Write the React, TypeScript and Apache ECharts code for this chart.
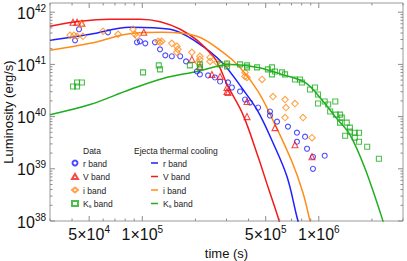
import React, { useEffect, useRef } from 'react';
import * as echarts from 'echarts';

// ---- observed data (time s, luminosity erg/s) ----
const rBandData: number[][] = [
  [4.16e4, 2.89e41], [4.38e4, 4.71e41], [6.39e4, 4.12e41], [9.33e4, 2.65e41], [9.7e4, 2.77e41],
  [1.04e5, 2.53e41], [1.18e5, 2.65e41], [1.26e5, 1.94e41], [1.35e5, 1.49e41], [1.47e5, 1.43e41],
  [1.64e5, 1.43e41], [1.77e5, 1.14e41], [2.04e5, 7.33e40], [2.12e5, 6.43e40], [2.36e5, 6.14e40],
  [2.58e5, 5.62e40], [2.76e5, 4.71e40], [3.06e5, 4.51e40], [3.22e5, 3.61e40], [3.58e5, 3.03e40],
  [3.82e5, 2.12e40], [4.08e5, 1.86e40], [4.53e5, 1.49e40], [5.29e5, 1.25e40], [5.29e5, 1.05e40],
  [5.8e5, 8.01e39], [6.69e5, 6.43e39], [7.52e5, 4.92e39], [7.52e5, 3.3e39], [8.36e5, 4.12e39],
  [8.58e5, 2.42e39], [9.27e5, 1.7e39], [1.08e6, 1.78e39], [9.27e5, 1.0e39],
];
const vBandData: number[][] = [
  [4.05e4, 6.43e41], [4.27e4, 6.43e41], [4.55e4, 6.14e41], [1.02e5, 4.12e41], [1.91e5, 1.25e41],
  [2.12e5, 9.15e40], [2.48e5, 6.43e40], [2.76e5, 5.87e40], [3.02e5, 3.61e40], [3.02e5, 3.03e40],
  [3.06e5, 2.89e40], [3.92e5, 1.94e40], [3.92e5, 1.0e40], [5.65e5, 6.14e39], [7.33e5, 2.89e39],
  [9.15e5, 1.7e39],
];
const iBandData: number[][] = [
  [3.9e4, 3.61e41], [4.1e4, 3.61e41], [4.27e4, 3.45e41], [4.61e4, 3.45e41], [4.49e4, 5.87e41],
  [5.99e4, 4.31e41], [7.29e4, 3.78e41], [8.86e4, 4.71e41], [9.09e4, 3.78e41], [9.33e4, 3.45e41],
  [1.23e5, 2.77e41], [1.26e5, 2.65e41], [1.29e5, 2.77e41], [1.47e5, 2.53e41], [1.57e5, 2.22e41],
  [1.59e5, 1.94e41], [1.57e5, 1.7e41], [1.91e5, 1.7e41], [2.12e5, 1.43e41], [2.12e5, 1.25e41],
  [2.07e5, 1.09e41], [2.42e5, 1.36e41], [2.42e5, 1.14e41], [2.65e5, 1.09e41], [3.02e5, 1.0e41],
  [3.82e5, 7.02e40], [3.82e5, 5.87e40], [3.92e5, 5.62e40], [4.77e5, 5.15e40], [5.5e5, 2.42e40],
  [6.44e5, 2.12e40], [6.52e5, 1.49e40], [7.33e5, 1.78e40], [6.44e5, 9.57e39], [8.14e5, 9.57e39],
  [9.15e5, 3.95e39],
];
const ksBandData: number[][] = [
  [4.05e4, 3.78e40], [4.27e4, 3.78e40], [4.27e4, 4.51e40], [4.55e4, 4.51e40], [1.01e5, 7.02e40],
  [1.24e5, 9.57e40], [1.26e5, 8.01e40], [1.86e5, 9.57e40], [2.12e5, 1.0e41], [2.12e5, 8.75e40],
  [2.76e5, 1.0e41], [3.02e5, 1.04e41], [3.02e5, 9.15e40], [3.58e5, 1.0e41], [3.92e5, 9.57e40],
  [3.92e5, 8.75e40], [4.47e5, 8.75e40], [5.15e5, 8.01e40], [5.43e5, 8.75e40], [5.43e5, 6.43e40],
  [5.65e5, 7.33e40], [6.19e5, 7.02e40], [6.44e5, 6.43e40], [7.33e5, 5.15e40], [7.83e5, 5.15e40],
  [8.03e5, 4.51e40], [8.92e5, 3.3e40], [9.52e5, 3.61e40], [9.9e5, 2.65e40], [1.08e6, 1.94e40],
  [9.9e5, 1.78e40], [1.13e6, 1.7e40], [1.24e6, 1.94e40], [1.16e6, 1.25e40], [1.25e6, 1.09e40],
  [1.32e6, 1.09e40], [1.35e6, 9.57e39], [1.32e6, 7.67e39], [1.44e6, 7.67e39], [1.5e6, 6.14e39],
  [1.41e6, 4.31e39], [1.5e6, 5.15e39], [1.6e6, 4.92e39], [1.6e6, 3.95e39], [1.69e6, 4.92e39],
  [1.69e6, 3.3e39], [1.88e6, 2.65e39], [2.19e6, 1.56e39],
];

// ---- ejecta thermal cooling model curves ----
const rBandModel: number[][] = [
  [3.0e4, 2.89e41], [5.06e4, 3.78e41], [8.52e4, 5.15e41], [1.44e5, 4.71e41], [2.04e5, 2.65e41],
  [2.83e5, 1.09e41], [3.72e5, 3.3e40], [4.53e5, 1.25e40], [5.5e5, 3.16e39], [6.61e5, 7.02e38],
  [7.52e5, 1.19e38], [7.83e5, 7.3e37],
];
const vBandModel: number[][] = [
  [3.0e4, 5.38e41], [4.44e4, 6.71e41], [6.56e4, 7.33e41], [9.7e4, 7.33e41], [1.64e5, 4.71e41],
  [2.52e5, 1.43e41], [3.06e5, 3.78e40], [3.72e5, 1.09e40], [4.53e5, 1.7e39], [5.15e5, 4.51e38],
  [5.87e5, 1.19e38], [6.11e5, 7.3e37],
];
const iBandModel: number[][] = [
  [3.0e4, 1.86e41], [5.06e4, 2.53e41], [8.86e4, 3.95e41], [1.31e5, 4.12e41], [2.04e5, 3.45e41],
  [2.87e5, 1.7e41], [3.58e5, 8.75e40], [4.53e5, 3.03e40], [5.65e5, 7.02e39], [7.05e5, 1.36e39],
  [8.14e5, 3.45e38], [8.92e5, 1.0e38], [9.15e5, 7.3e37],
];
const ksBandModel: number[][] = [
  [3.0e4, 1.09e40], [5.06e4, 1.7e40], [8.52e4, 3.3e40], [1.31e5, 5.38e40], [2.04e5, 7.33e40],
  [3.14e5, 1.0e41], [4.53e5, 8.75e40], [6.19e5, 6.43e40], [8.36e5, 4.51e40], [1.06e6, 1.94e40],
  [1.25e6, 9.57e39], [1.5e6, 4.51e39], [1.83e6, 1.0e39], [2.31e6, 1.0e38], [2.35e6, 7.3e37],
];

// ---- axes ----
const xMin = 3e4;
const xMax = 3e6;
const yMin = 1e38;
const yMax = 1.5e42;
const xTickLabels = [5e4, 1e5, 5e5, 1e6];
const yTickLabels = [1e38, 1e39, 1e40, 1e41, 1e42];

const BLUE = '#1f1fff';
const RED = '#f21a1a';
const ORANGE = '#ff8c1a';
const GREEN = '#1fae1f';
const FONT = 'Liberation Sans, Arial, sans-serif';

const sup = (v: number) => Math.round(Math.log10(v));

export default function App() {
  const ref = useRef<HTMLDivElement>(null);
  useEffect(() => {
    if (!ref.current) return;
    const chart = echarts.init(ref.current, null, { renderer: 'svg' });

    const xMinor: number[] = [];
    for (let e = 4; e <= 6; e++) for (let k = 1; k <= 9; k++) {
      const v = k * Math.pow(10, e);
      if (v >= xMin * 0.999 && v <= xMax * 1.001) xMinor.push(v);
    }
    const yMinor: number[] = [];
    for (let e = 38; e <= 42; e++) for (let k = 1; k <= 9; k++) {
      const v = k * Math.pow(10, e);
      if (v >= yMin * 0.999 && v <= yMax * 1.001) yMinor.push(v);
    }
    const isMajorX = (v: number) => xTickLabels.some((m) => Math.abs(m - v) / m < 1e-6);
    const isMajorY = (v: number) => yTickLabels.some((m) => Math.abs(m - v) / m < 1e-6);

    const tickColor = '#8c8c8c';
    const tickSeries: any = {
      type: 'custom',
      name: 'ticks',
      silent: true,
      z: 6,
      clip: false,
      data: [[xMin, yMin]],
      renderItem: (params: any, api: any) => {
        const cs = params.coordSys;
        const x0 = cs.x, x1 = cs.x + cs.width, y0 = cs.y, y1 = cs.y + cs.height;
        const children: any[] = [];
        const st = { stroke: tickColor, lineWidth: 1 };
        xMinor.forEach((v) => {
          const px = api.coord([v, yMin])[0];
          const len = isMajorX(v) ? 5 : 2.5;
          children.push({ type: 'line', shape: { x1: px, y1: y1, x2: px, y2: y1 - len }, style: st });
          children.push({ type: 'line', shape: { x1: px, y1: y0, x2: px, y2: y0 + len }, style: st });
        });
        yMinor.forEach((v) => {
          const py = api.coord([xMin, v])[1];
          const len = isMajorY(v) ? 5 : 2.5;
          children.push({ type: 'line', shape: { x1: x0, y1: py, x2: x0 + len, y2: py }, style: st });
          children.push({ type: 'line', shape: { x1: x1, y1: py, x2: x1 - len, y2: py }, style: st });
        });
        return { type: 'group', children };
      },
    };

    const scatter = (name: string, data: number[][], color: string, symbol: string, size: number) => ({
      name,
      type: 'scatter',
      data,
      symbol,
      symbolSize: size,
      z: 4,
      itemStyle: { color: 'rgba(255,255,255,0)', borderColor: color, borderWidth: 1.1 },
    });
    const model = (name: string, data: number[][], color: string) => ({
      name,
      type: 'line',
      data,
      symbol: 'none',
      smooth: 0.35,
      z: 3,
      lineStyle: { color, width: 1.5 },
      itemStyle: { color },
    });

    const legendText = {
      fontSize: 8.5,
      fontFamily: FONT,
      color: '#222',
      lineHeight: 10,
      rich: {
        n: { fontSize: 8.5, fontFamily: FONT, color: '#222', lineHeight: 10, verticalAlign: 'bottom' },
        s: { fontSize: 5.5, fontFamily: FONT, color: '#222', lineHeight: 7, padding: [3, 0, 0, 0], verticalAlign: 'bottom' },
      },
    };
    const legendFormatter = (name: string) => {
      const base = name.replace(' model', '');
      if (base.startsWith('Ks')) return '{n|K}{s|s}{n| band}';
      return '{n|' + base + '}';
    };

    const option: any = {
      animation: false,
      backgroundColor: '#fff',
      grid: {
        left: 50, right: 4, top: 3, bottom: 40,
        containLabel: false,
        outerBoundsMode: 'none',
        show: true, borderColor: '#9a9a9a', borderWidth: 1, backgroundColor: 'transparent',
      },
      xAxis: {
        type: 'log',
        logBase: 10,
        min: xMin,
        max: xMax,
        name: 'time (s)',
        nameLocation: 'middle',
        nameGap: 25,
        nameTextStyle: { fontSize: 13, fontFamily: FONT, color: '#111' },
        axisLine: { show: false },
        axisTick: { show: false },
        splitLine: { show: false },
        minorTick: { show: false },
        axisLabel: {
          customValues: xTickLabels,
          margin: 3,
          formatter: (v: number) => {
            const e = Math.floor(Math.log10(v) + 1e-9);
            const m = Math.round(v / Math.pow(10, e));
            return '{b|' + m + '×10}{s|' + e + '}';
          },
          rich: {
            b: { fontSize: 16, fontFamily: FONT, color: '#111', lineHeight: 18, verticalAlign: 'bottom' },
            s: { fontSize: 10, fontFamily: FONT, color: '#111', lineHeight: 10, padding: [0, 0, 8, 0], verticalAlign: 'bottom' },
          },
        },
      },
      yAxis: {
        type: 'log',
        logBase: 10,
        min: yMin,
        max: yMax,
        name: 'Luminosity (erg/s)',
        nameLocation: 'middle',
        nameGap: 35,
        nameMoveOverlap: false,
        nameRotate: 90,
        nameTextStyle: { fontSize: 13, fontFamily: FONT, color: '#111' },
        axisLine: { show: false },
        axisTick: { show: false },
        splitLine: { show: false },
        axisLabel: {
          customValues: yTickLabels,
          margin: 4,
          formatter: (v: number) => '{b|10}{s|' + sup(v) + '}',
          rich: {
            b: { fontSize: 16, fontFamily: FONT, color: '#111', lineHeight: 18, verticalAlign: 'bottom' },
            s: { fontSize: 10, fontFamily: FONT, color: '#111', lineHeight: 10, padding: [0, 0, 8, 0], verticalAlign: 'bottom' },
          },
        },
      },
      legend: [
        {
          data: ['r band', 'V band', 'i band', 'Ks band'],
          orient: 'vertical',
          left: 71,
          top: 158,
          itemWidth: 6,
          itemHeight: 5,
          itemGap: 3.5,
          padding: 0,
          selectedMode: false,
          textStyle: legendText,
          formatter: legendFormatter,
        },
        {
          data: ['r band model', 'V band model', 'i band model', 'Ks band model'].map((n) => ({ name: n, icon: 'rect' })),
          orient: 'vertical',
          left: 151,
          top: 158,
          itemWidth: 7,
          itemHeight: 1.5,
          itemGap: 3.5,
          padding: 0,
          selectedMode: false,
          textStyle: legendText,
          formatter: legendFormatter,
        },
      ],
      graphic: [
        { type: 'text', left: 83, top: 146, style: { text: 'Data', fontSize: 8.5, fontFamily: FONT, fill: '#222' } },
        { type: 'text', left: 134, top: 146, style: { text: 'Ejecta thermal cooling', fontSize: 8.5, fontFamily: FONT, fill: '#222' } },
      ],
      series: [
        model('r band model', rBandModel, BLUE),
        model('V band model', vBandModel, RED),
        model('i band model', iBandModel, ORANGE),
        model('Ks band model', ksBandModel, GREEN),
        scatter('r band', rBandData, BLUE, 'circle', 5),
        scatter('V band', vBandData, RED, 'triangle', 6),
        scatter('i band', iBandData, ORANGE, 'diamond', 6.5),
        scatter('Ks band', ksBandData, GREEN, 'rect', 5),
        tickSeries,
      ],
    };
    chart.setOption(option);
    return () => chart.dispose();
  }, []);
  return <div ref={ref} style={{ position: 'absolute', left: 0, top: 0, width: 407, height: 261 }} />;
}
